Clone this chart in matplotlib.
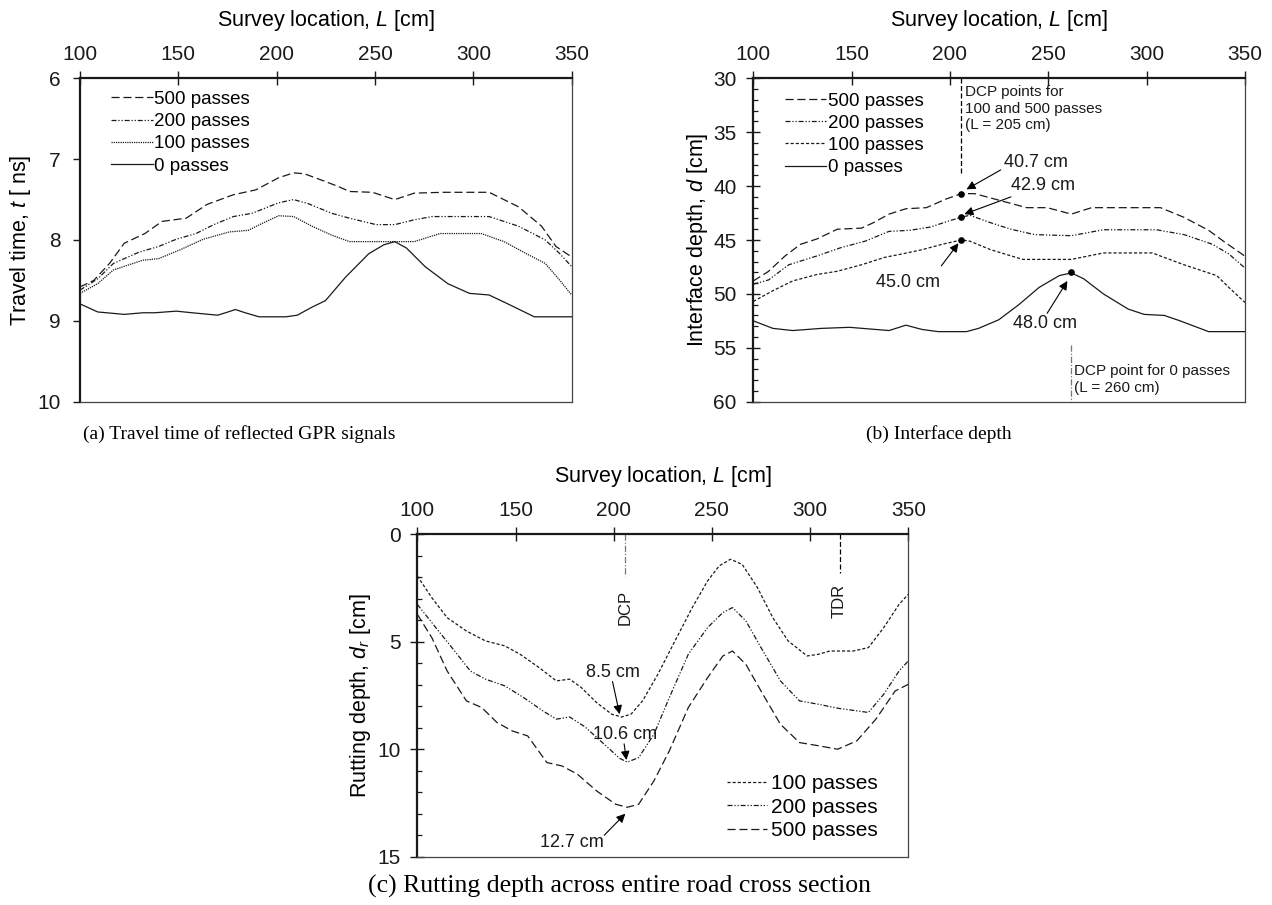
import matplotlib
matplotlib.use("Agg")
from matplotlib import pyplot as plt
from matplotlib.ticker import MultipleLocator

plt.rcParams['font.family'] = ['Liberation Sans', 'DejaVu Sans']
plt.rcParams['mathtext.fontset'] = 'custom'
plt.rcParams['mathtext.rm'] = 'Liberation Sans'
plt.rcParams['mathtext.it'] = 'Liberation Sans:italic'

# ---- (a) travel time of reflected GPR signals [ns]
a_L500 = [100, 107, 115, 122.5, 133, 141.7, 154, 164.6, 178, 189.4, 201, 208.6, 214, 224, 231.5, 237, 248.7, 260, 270, 285, 308, 323, 334.7, 342, 350]
a_t500 = [8.58, 8.50, 8.29, 8.04, 7.92, 7.77, 7.73, 7.56, 7.44, 7.38, 7.23, 7.17, 7.18, 7.27, 7.34, 7.40, 7.41, 7.50, 7.42, 7.41, 7.41, 7.59, 7.83, 8.08, 8.21]
a_L200 = [100, 109, 117, 130, 140, 149, 159, 168, 178, 187.5, 201, 208.6, 216, 228, 237, 250.6, 260, 270, 279, 308, 323, 336.6, 344, 350]
a_t200 = [8.62, 8.48, 8.29, 8.15, 8.08, 7.99, 7.92, 7.81, 7.71, 7.67, 7.54, 7.50, 7.55, 7.67, 7.73, 7.81, 7.81, 7.75, 7.71, 7.71, 7.83, 8.00, 8.17, 8.33]
a_L100 = [100, 109, 117, 132, 140, 151, 162.7, 176, 185.6, 193, 201, 208.6, 218, 228, 237, 250.6, 270, 283, 304, 315.6, 327, 336.6, 344, 350]
a_t100 = [8.66, 8.54, 8.37, 8.25, 8.23, 8.12, 7.99, 7.90, 7.88, 7.79, 7.70, 7.71, 7.83, 7.94, 8.02, 8.02, 8.02, 7.92, 7.92, 8.02, 8.17, 8.29, 8.50, 8.68]
a_L0 = [100, 109, 122.5, 132, 138, 149, 157, 170, 174, 179, 184, 191, 204.7, 210.5, 218, 224.8, 235, 246.8, 254.4, 260, 266, 275.5, 287, 298, 308, 317.5, 331, 350]
a_t0 = [8.79, 8.89, 8.92, 8.90, 8.90, 8.88, 8.90, 8.93, 8.90, 8.86, 8.90, 8.95, 8.95, 8.93, 8.83, 8.75, 8.46, 8.17, 8.06, 8.02, 8.10, 8.33, 8.54, 8.66, 8.68, 8.79, 8.95, 8.95]

# ---- (b) interface depth [cm]
b_L500 = [100, 107.8, 116, 124, 132.4, 142.7, 155, 161, 169, 177.6, 188, 198, 205.7, 212.5, 222.7, 239, 249.4, 261.7, 272, 307, 319, 331.5, 339.7, 350]
b_d500 = [48.8, 47.9, 46.5, 45.4, 44.9, 44.0, 43.9, 43.4, 42.6, 42.1, 42.0, 41.2, 40.7, 40.7, 41.2, 42.0, 42.0, 42.6, 42.0, 42.0, 42.9, 44.1, 45.2, 46.5]
b_L200 = [100, 107.8, 118, 132, 144.7, 157, 169, 179.6, 190, 200, 205.7, 210, 220.7, 231, 243, 261.7, 278, 305, 319, 333.5, 341.8, 350]
b_d200 = [49.1, 48.7, 47.3, 46.5, 45.7, 45.1, 44.2, 44.1, 43.8, 43.2, 42.9, 42.7, 43.4, 44.0, 44.5, 44.6, 44.05, 44.05, 44.5, 45.4, 46.3, 47.6]
b_L100 = [100, 110, 120, 132.4, 142.7, 155, 167, 175.5, 185.8, 196, 205.7, 210, 220.7, 237, 261.7, 278, 302.8, 319, 335.6, 341.8, 350]
b_d100 = [50.7, 49.7, 48.8, 48.2, 47.9, 47.3, 46.6, 46.3, 45.9, 45.4, 45.0, 45.1, 45.9, 46.8, 46.8, 46.2, 46.2, 47.3, 48.3, 49.4, 50.8]
b_L0 = [100, 110, 120, 134.5, 148.9, 169, 177.6, 185.8, 194, 208.4, 214.5, 224.8, 235, 245.3, 255.6, 261.7, 268, 278, 290.5, 298.7, 309, 317, 331.5, 350]
b_d0 = [52.5, 53.2, 53.4, 53.2, 53.1, 53.4, 52.9, 53.3, 53.5, 53.5, 53.2, 52.4, 51.0, 49.4, 48.3, 48.05, 48.6, 50.0, 51.4, 51.9, 52.0, 52.5, 53.5, 53.5]
b_dcp_L = [205.7, 205.7, 205.7, 261.7]
b_dcp_d = [40.7, 42.9, 45.0, 48.0]

# ---- (c) rutting depth [cm]
c_L100 = [100, 107.4, 115.2, 125, 134.7, 144.5, 152.3, 162, 170.8, 177.6, 183.5, 191.3, 199, 204, 208.8, 214.7, 222.5, 230.3, 240, 247.8, 253.7, 259.5, 265.4, 273.2, 281, 288.8, 298.5, 304.4, 310, 322, 329.7, 337.5, 345.3, 350]
c_d100 = [1.94, 2.95, 3.88, 4.50, 4.96, 5.19, 5.58, 6.20, 6.82, 6.74, 7.13, 7.83, 8.37, 8.50, 8.37, 7.75, 6.51, 5.12, 3.41, 2.17, 1.47, 1.16, 1.40, 2.48, 3.88, 4.96, 5.66, 5.58, 5.43, 5.43, 5.27, 4.34, 3.26, 2.79]
c_L200 = [100, 109.4, 119, 127, 134.7, 144.5, 154.2, 164, 170.8, 177.6, 185.4, 195.2, 203, 206.9, 212.7, 220.5, 228.3, 238, 247.8, 255.6, 260.5, 267.3, 275, 284.9, 294.6, 304.4, 314, 329.7, 337.5, 345.3, 350]
c_d200 = [3.26, 4.34, 5.43, 6.36, 6.74, 7.05, 7.60, 8.22, 8.60, 8.50, 8.96, 9.77, 10.42, 10.6, 10.39, 9.30, 7.60, 5.58, 4.34, 3.64, 3.41, 4.03, 5.27, 6.82, 7.75, 7.91, 8.09, 8.29, 7.44, 6.36, 5.89]
c_L500 = [100, 107.4, 115.2, 125, 132.8, 140.6, 148.4, 156.2, 166, 173.7, 181.5, 191.3, 201, 206.9, 212.7, 220.5, 228.3, 238, 247.8, 255.6, 260.5, 267.3, 275, 284.9, 294.6, 304.4, 314, 323.8, 333.5, 343.3, 350]
c_d500 = [3.72, 4.81, 6.36, 7.75, 8.06, 8.76, 9.15, 9.38, 10.62, 10.78, 11.16, 11.94, 12.56, 12.7, 12.56, 11.47, 10.08, 8.06, 6.67, 5.66, 5.43, 6.05, 7.29, 8.84, 9.69, 9.84, 10.0, 9.61, 8.60, 7.29, 6.98]

INK = '#1a1a1a'
LW = 0.9
ls500 = (0, (6.5, 3))
ls200 = (0, (4, 1.5, 1, 1.5, 1, 1.5))
ls100_dot = (0, (1, 0.8))
ls100_dash = (0, (2.5, 1.6))

fig = plt.figure(figsize=(12.72, 9.05), dpi=100)
W, H = 1272, 905


def make_axes(x0, y0, x1, y1):
    return fig.add_axes([x0 / W, 1 - y1 / H, (x1 - x0) / W, (y1 - y0) / H])


def style_axes(ax, ylabel, ylim, ymajor, yminor, ytickdir, ypad, ylabelpad):
    ax.set_xlim(100, 350)
    ax.set_ylim(*ylim)
    ax.xaxis.tick_top()
    ax.xaxis.set_label_position('top')
    ax.xaxis.set_major_locator(MultipleLocator(50))
    ax.yaxis.set_major_locator(MultipleLocator(ymajor))
    ax.set_xlabel('Survey location, $L$ [cm]', fontsize=15.5, labelpad=13.5)
    ax.set_ylabel(ylabel, fontsize=15.5, labelpad=ylabelpad)
    ax.tick_params(axis='x', which='major', direction='inout', length=10, width=1,
                   labelsize=15, pad=5.5, colors=INK)
    ax.tick_params(axis='y', which='major', direction=ytickdir, length=10 if ytickdir == 'inout' else 5,
                   width=1, labelsize=15, pad=ypad, colors=INK)
    if yminor:
        ax.yaxis.set_minor_locator(MultipleLocator(yminor))
        ax.tick_params(axis='y', which='minor', direction='in', length=3.8, width=0.9, colors=INK)
    for side in ['left', 'top']:
        ax.spines[side].set_linewidth(1.6)
        ax.spines[side].set_color(INK)
    for side in ['right', 'bottom']:
        ax.spines[side].set_linewidth(0.9)
        ax.spines[side].set_color('#444444')


# ---------------- panel (a)
ax1 = make_axes(80, 78.3, 571.7, 401.7)
ax1.plot(a_L500, a_t500, color=INK, lw=LW, ls=ls500, label='500 passes')
ax1.plot(a_L200, a_t200, color=INK, lw=LW, ls=ls200, label='200 passes')
ax1.plot(a_L100, a_t100, color=INK, lw=LW, ls=ls100_dot, label='100 passes')
ax1.plot(a_L0, a_t0, color=INK, lw=LW, ls='-', label='0 passes')
style_axes(ax1, 'Travel time, $t$ [ ns]', (10, 6), 1, None, 'out', 9, 3)
ax1.legend(loc='upper left', bbox_to_anchor=(0.0636, 0.961), frameon=False, fontsize=13.5,
           borderaxespad=0, borderpad=0, handlelength=2.2, handletextpad=0.1, labelspacing=0.27)

# ---------------- panel (b)
ax2 = make_axes(753.3, 78.3, 1245, 401.7)
ax2.plot(b_L500, b_d500, color=INK, lw=LW, ls=ls500, label='500 passes')
ax2.plot(b_L200, b_d200, color=INK, lw=LW, ls=ls200, label='200 passes')
ax2.plot(b_L100, b_d100, color=INK, lw=LW, ls=ls100_dash, label='100 passes')
ax2.plot(b_L0, b_d0, color=INK, lw=LW, ls='-', label='0 passes')
style_axes(ax2, 'Interface depth, $d$ [cm]', (60, 30), 5, 1, 'inout', 7, 2)
ax2.legend(loc='upper left', bbox_to_anchor=(0.064, 0.956), frameon=False, fontsize=13.5,
           borderaxespad=0, borderpad=0, handlelength=2.2, handletextpad=0.1, labelspacing=0.27)
ax2.plot(b_dcp_L, b_dcp_d, 'o', color='black', ms=3.8, zorder=5)
ax2.plot([205.7, 205.7], [30, 38.9], color='black', lw=0.9, ls=(0, (4, 2)))
ax2.plot([261.7, 261.7], [54.7, 60], color='#777777', lw=0.9, ls=(0, (5, 1.5, 1, 1.5)))
ax2.text(207.5, 30.6, 'DCP points for\n100 and 500 passes\n(L = 205 cm)', fontsize=11,
         ha='left', va='top', linespacing=1.25, color=INK)
ax2.text(263.0, 56.5, 'DCP point for 0 passes\n(L = 260 cm)', fontsize=11,
         ha='left', va='top', linespacing=1.25, color=INK)
arrow_kw = dict(arrowstyle='-|>', color='black', lw=0.8, mutation_scale=13, shrinkA=0, shrinkB=0)
ax2.annotate('', xy=(208.4, 40.3), xytext=(225.8, 38.5), arrowprops=arrow_kw)
ax2.annotate('', xy=(207.3, 42.6), xytext=(231.0, 41.0), arrowprops=arrow_kw)
ax2.annotate('', xy=(204.3, 45.3), xytext=(195.6, 47.4), arrowprops=arrow_kw)
ax2.annotate('', xy=(259.7, 48.8), xytext=(249.4, 51.8), arrowprops=arrow_kw)
ax2.text(243.9, 37.8, '40.7 cm', fontsize=13, ha='center', va='center', color=INK)
ax2.text(247.4, 39.95, '42.9 cm', fontsize=13, ha='center', va='center', color=INK)
ax2.text(178.6, 48.9, '45.0 cm', fontsize=13, ha='center', va='center', color=INK)
ax2.text(248.4, 52.7, '48.0 cm', fontsize=13, ha='center', va='center', color=INK)

# ---------------- panel (c)
ax3 = make_axes(417.3, 534.3, 908.3, 856.7)
ax3.plot(c_L100, c_d100, color=INK, lw=LW, ls=ls100_dash, label='100 passes')
ax3.plot(c_L200, c_d200, color=INK, lw=LW, ls=ls200, label='200 passes')
ax3.plot(c_L500, c_d500, color=INK, lw=LW, ls=ls500, label='500 passes')
style_axes(ax3, 'Rutting depth, $d_r$ [cm]', (15, 0), 5, 1, 'inout', 7, 3)
ax3.legend(loc='upper left', bbox_to_anchor=(0.630, 0.256), frameon=False, fontsize=15,
           borderaxespad=0, borderpad=0, handlelength=1.93, handletextpad=0.19, labelspacing=0.21)
ax3.plot([206, 206], [0, 1.94], color='#777777', lw=0.9, ls=(0, (5, 1.5, 1, 1.5)))
ax3.plot([315, 315], [0, 1.8], color='black', lw=0.9, ls=(0, (4, 2)))
ax3.text(206, 3.4, 'DCP', rotation=90, fontsize=12, ha='center', va='center', color=INK)
ax3.text(315, 3.1, 'TDR', rotation=90, fontsize=12, ha='center', va='center', color=INK)
ax3.annotate('', xy=(203.0, 8.37), xytext=(199.4, 6.85), arrowprops=arrow_kw)
ax3.annotate('', xy=(206.5, 10.5), xytext=(205.3, 9.75), arrowprops=arrow_kw)
ax3.annotate('', xy=(205.9, 13.0), xytext=(195.2, 14.0), arrowprops=arrow_kw)
ax3.text(199.4, 6.43, '8.5 cm', fontsize=13, ha='center', va='center', color=INK)
ax3.text(205.9, 9.30, '10.6 cm', fontsize=13, ha='center', va='center', color=INK)
ax3.text(178.6, 14.34, '12.7 cm', fontsize=13, ha='center', va='center', color=INK)

# captions
cap = dict(family='Liberation Serif', va='center', ha='left', color='black')
fig.text(83 / W, 1 - 434 / H, '(a) Travel time of reflected GPR signals', fontsize=14, **cap)
fig.text(866 / W, 1 - 434 / H, '(b) Interface depth', fontsize=14, **cap)
fig.text(368 / W, 1 - 886 / H, '(c) Rutting depth across entire road cross section', fontsize=18.5, **cap)

fig.savefig('out.png', dpi=100)
